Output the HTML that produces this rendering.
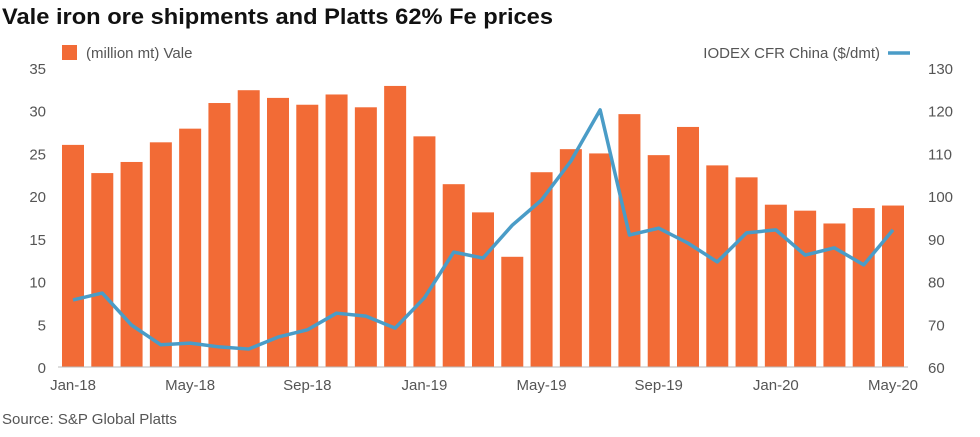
<!DOCTYPE html>
<html><head><meta charset="utf-8">
<style>
body{margin:0;background:#fff;font-family:"Liberation Sans",sans-serif;}
svg text{font-family:"Liberation Sans",sans-serif;}
</style></head>
<body>
<svg id="chart" width="980" height="432">
<text x="2" y="24" font-size="22" font-weight="bold" fill="#111" textLength="551" lengthAdjust="spacingAndGlyphs">Vale iron ore shipments and Platts 62% Fe prices</text>
<rect x="62" y="45" width="15" height="15" fill="#f26b36"/>
<text x="86" y="58" font-size="15" fill="#555">(million mt) Vale</text>
<text x="880" y="58" font-size="15" fill="#555" text-anchor="end">IODEX CFR China ($/dmt)</text>
<line x1="888" y1="53" x2="910" y2="53" stroke="#4a9cc7" stroke-width="3.5"/>
<text x="2" y="424" font-size="15" fill="#555">Source: S&amp;P Global Platts</text>
<g id="g"></g>
</svg>
<script>
const months=["Jan-18","Feb-18","Mar-18","Apr-18","May-18","Jun-18","Jul-18","Aug-18","Sep-18","Oct-18","Nov-18","Dec-18","Jan-19","Feb-19","Mar-19","Apr-19","May-19","Jun-19","Jul-19","Aug-19","Sep-19","Oct-19","Nov-19","Dec-19","Jan-20","Feb-20","Mar-20","Apr-20","May-20"];
const vale=[26,22.7,24,26.3,27.9,30.9,32.4,31.5,30.7,31.9,30.4,32.9,27,21.4,18.1,12.9,22.8,25.5,25,29.6,24.8,28.1,23.6,22.2,19,18.3,16.8,18.6,18.9];
const iodex=[75.7,77.3,69.8,65.2,65.6,64.7,64.2,67,68.7,72.6,71.9,69.1,76.2,86.9,85.5,93.2,99.1,108.2,120.2,90.9,92.5,89,84.6,91.4,92.1,86.2,87.9,83.9,92.1];
const leftTicks=[0,5,10,15,20,25,30,35];
const rightTicks=[60,70,80,90,100,110,120,130];
const xLabelIdx=[0,4,8,12,16,20,24,28];
const NS="http://www.w3.org/2000/svg";
const g=document.getElementById('g');
const y0=367,yTop=68;
const yL=v=>y0-(v/35)*(y0-yTop);
const yR=v=>y0-((v-60)/70)*(y0-yTop);
const x=i=>73+i*(893-73)/(months.length-1);
function mk(t,a){const e=document.createElementNS(NS,t);for(const k in a)e.setAttribute(k,a[k]);g.appendChild(e);return e;}
leftTicks.forEach(v=>{const t=mk('text',{x:46,y:yL(v)+6,'font-size':15,fill:'#555','text-anchor':'end'});t.textContent=v;

});
rightTicks.forEach(v=>{const t=mk('text',{x:928,y:yR(v)+6,'font-size':15,fill:'#555'});t.textContent=v;

});
vale.forEach((v,i)=>{const r=mk('rect',{x:x(i)-11,y:yL(v),width:22,height:y0-yL(v),fill:'#f26b36'});

});
const ax=mk('line',{x1:58,x2:908,y1:y0,y2:y0,stroke:'#bbb','stroke-width':1});


xLabelIdx.forEach(i=>{const t=mk('text',{x:x(i),y:390,'font-size':15,fill:'#555','text-anchor':'middle'});t.textContent=months[i];

});
const p=mk('polyline',{points:iodex.map((v,i)=>x(i)+','+yR(v)).join(' '),fill:'none',stroke:'#4a9cc7','stroke-width':3.5,'stroke-linejoin':'round'});


</script>
</body></html>
